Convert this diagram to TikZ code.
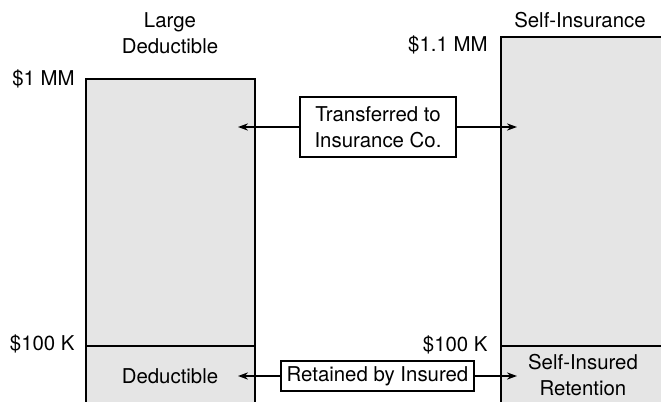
\documentclass[tikz,border=0pt]{standalone}
\usepackage{fontspec}
\setmainfont{TeX Gyre Heros}
\usetikzlibrary{arrows.meta}

\begin{document}
\begin{tikzpicture}[x=0.5pt,y=-0.5pt,
			every node/.style={font=\fontsize{10.2}{13}\selectfont,align=center,inner sep=1pt},
			bar/.style={draw,fill=black!10,line width=0.7pt},
			tag/.style={draw,fill=white,line width=0.7pt,inner sep=2pt},
			link/.style={-{Stealth[length=5pt,width=3.6pt]},line width=0.7pt}]
	\useasboundingbox (0,0) rectangle (661,402);
	% the two bars
	\draw[bar] (86,404) -- (86,79) -- (255,79) -- (255,404);
	\draw[bar] (501,404) -- (501,37) -- (663,37) -- (663,404);
	\draw[line width=0.7pt] (86,346) -- (255,346);
	\draw[line width=0.7pt] (501,346) -- (663,346);
	% headings and limits
	\node (large) at (170,33) {Large\\Deductible};
	\node (self) at (580,20) {Self-Insurance};
	\node[anchor=east] (mm) at (77,79) {\$1 MM};
	\node[anchor=east] (mmm) at (490,45) {\$1.1 MM};
	\node[anchor=east] (kleft) at (77,344) {\$100 K};
	\node[anchor=east] (kright) at (490,345) {\$100 K};
	\node (ded) at (170,376) {Deductible};
	\node (sir) at (583,375) {Self-Insured\\Retention};
	% middle boxes
	\node[tag,minimum width=78pt,minimum height=30pt] (xfer) at (378,127) {Transferred to\\Insurance Co.};
	\node[tag,minimum width=96.5pt,minimum height=15pt] (kept) at (377.5,376) {Retained by Insured};
	\coordinate (xl) at (238,127);
	\coordinate (xr) at (517,127);
	\coordinate (kl) at (238,376);
	\coordinate (kr) at (517,376);
	\draw[link] (xfer.west) -- (xl);
	\draw[link] (xfer.east) -- (xr);
	\draw[link] (kept.west) -- (kl);
	\draw[link] (kept.east) -- (kr);
\end{tikzpicture}
\end{document}
